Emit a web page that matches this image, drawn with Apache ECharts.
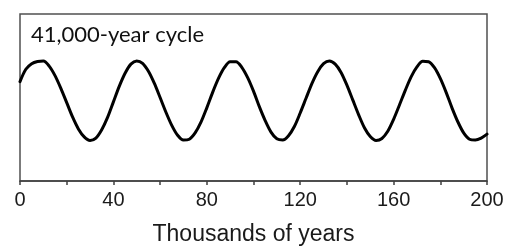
<!DOCTYPE html>
<html>
<head>
<meta charset="utf-8">
<script src="https://cdn.jsdelivr.net/npm/echarts@6/dist/echarts.min.js"></script>
<style>
  html, body { margin: 0; padding: 0; background: #fff; }
  #chart { width: 507px; height: 251px; }
</style>
</head>
<body>
<div id="chart"></div>
<script>
// thousands of years
const years = [0, 2.5, 5, 7.5, 10, 12.5, 15, 17.5, 20, 22.5, 25, 27.5, 30, 32.5, 35, 37.5, 40, 42.5, 45, 47.5,
  50, 52.5, 55, 57.5, 60, 62.5, 65, 67.5, 70, 72.5, 75, 77.5, 80, 82.5, 85, 87.5, 90, 92.5, 95, 97.5,
  100, 102.5, 105, 107.5, 110, 112.5, 115, 117.5, 120, 122.5, 125, 127.5, 130, 132.5, 135, 137.5, 140, 142.5, 145, 147.5,
  150, 152.5, 155, 157.5, 160, 162.5, 165, 167.5, 170, 172.5, 175, 177.5, 180, 182.5, 185, 187.5, 190, 192.5, 195, 197.5, 200]

// relative amplitude
const cycle = [0.48, 0.79, 0.93, 0.985, 0.995, 0.87, 0.63, 0.31, -0.05, -0.41,
  -0.71, -0.91, -1.00, -0.94, -0.73, -0.42, -0.03, 0.36, 0.69, 0.92,
  1.00, 0.94, 0.74, 0.44, 0.08, -0.29, -0.62, -0.87, -0.99, -0.97,
  -0.81, -0.54, -0.18, 0.21, 0.56, 0.83, 0.98, 0.98, 0.84, 0.58,
  0.24, -0.15, -0.50, -0.79, -0.96, -0.99, -0.88, -0.65, -0.31, 0.06,
  0.43, 0.73, 0.93, 1.00, 0.92, 0.71, 0.39, 0.02, -0.35, -0.68,
  -0.90, -1.00, -0.95, -0.77, -0.47, -0.11, 0.26, 0.60, 0.85, 0.99,
  0.98, 0.83, 0.56, 0.21, -0.18, -0.53, -0.81, -0.97, -0.99, -0.94,
  -0.84]

const titleText = '41,000-year cycle'
const axisName = 'Thousands of years'

const chart = echarts.init(document.getElementById('chart'))

chart.setOption({
  animation: false,
  title: {
    text: titleText,
    left: 26,
    top: 19,
    textStyle: {
      fontFamily: 'Lato',
      fontWeight: 'normal',
      fontSize: 22,
      color: '#111'
    }
  },
  grid: {
    left: 20,
    right: 20,
    top: 14,
    bottom: 69,
    show: true,
    borderColor: '#505050',
    borderWidth: 1.5
  },
  xAxis: {
    type: 'value',
    min: 0,
    max: 200,
    interval: 40,
    name: axisName,
    nameLocation: 'middle',
    nameGap: 42,
    nameTextStyle: {
      fontFamily: 'Arial',
      fontSize: 23,
      color: '#1a1a1a'
    },
    axisLine: { onZero: false, lineStyle: { color: '#404040', width: 1.5 } },
    axisTick: { length: 4, lineStyle: { color: '#404040', width: 1.5 } },
    minorTick: { show: true, splitNumber: 2, length: 4, lineStyle: { color: '#404040', width: 1.5 } },
    splitLine: { show: false },
    axisLabel: {
      margin: 9,
      fontFamily: 'Arial',
      fontSize: 20,
      color: '#1a1a1a',
      showMinLabel: true,
      showMaxLabel: true
    }
  },
  yAxis: {
    type: 'value',
    min: -2.02,
    max: 2.18,
    show: false
  },
  series: [
    {
      type: 'line',
      data: years.map((x, i) => [x, cycle[i]]),
      smooth: 0.3,
      showSymbol: false,
      lineStyle: { color: '#000', width: 3, join: 'round', cap: 'round' }
    }
  ]
})
</script>
</body>
</html>
